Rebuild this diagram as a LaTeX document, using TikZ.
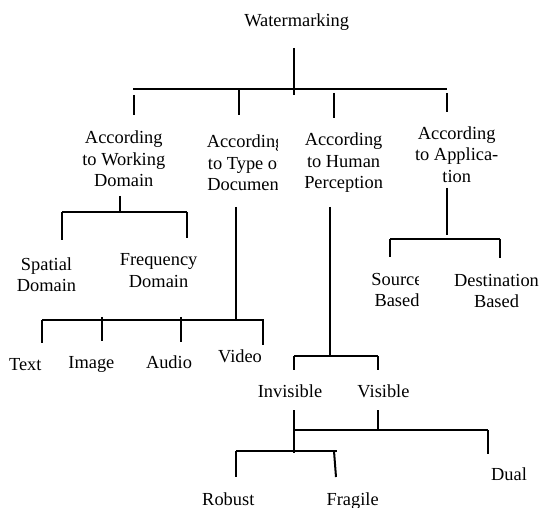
\documentclass[tikz,border=0pt]{standalone}
\usepackage{fontspec}
\setmainfont{Liberation Serif}

\begin{document}
\begin{tikzpicture}[x=1pt,y=-1pt,
		every node/.style={font=\fontsize{18.4}{21.6}\selectfont,inner sep=0pt,align=center,anchor=base},
		bar/.style={line width=2pt}]
			\useasboundingbox (0,0) rectangle (539,508);

			% the base of a node of several lines is its last line
			\node (WM) at (296.7,26.7) {Watermarking};
			\node (AWD) at (123.8,186.7) {According\\to Working\\Domain};
			\begin{scope}
				\clip (190,125) rectangle (277.3,200);
				\node (ATD) at (245.6,190.7) {According\\to Type of\\Document};
			\end{scope}
			\node (AHP) at (343.6,188.7) {According\\to Human\\Perception};
			\node (AAP) at (456.7,182.5) {According\\to Applica-\\tion};
			\node (SD) at (46.5,291.7) {Spatial\\Domain};
			\node (FD) at (158.6,287.5) {Frequency\\Domain};
			\begin{scope}
				\clip (360,265) rectangle (418.5,315);
				\node (SB) at (397,306.7) {Source\\Based};
			\end{scope}
			\node (DB) at (496.5,308) {Destination\\Based};
			\node (Txt) at (25.3,370.7) {Text};
			\node (Img) at (91.4,368.3) {Image};
			\node (Aud) at (169,368.3) {Audio};
			\node (Vid) at (240,362.7) {Video};
			\node (Inv) at (290,397.3) {Invisible};
			\node (Vis) at (383.5,397.3) {Visible};
			\node (Dual) at (509,480) {Dual};
			\node (Rob) at (228.3,505) {Robust};
			\node (Frg) at (352.6,505) {Fragile};

			% watermarking
			\coordinate (wm1) at (294,48);  \coordinate (wm2) at (294,95);
			\coordinate (wmL) at (133,89);  \coordinate (wmR) at (447,89);
			\coordinate (awd1) at (134,95); \coordinate (awd2) at (134,115);
			\coordinate (atd1) at (239,90); \coordinate (atd2) at (239,115);
			\coordinate (ahp1) at (334,93); \coordinate (ahp2) at (334,118);
			\coordinate (aap1) at (447,93); \coordinate (aap2) at (447,112);
			\draw[bar] (wm1) -- (wm2);
			\draw[bar] (wmL) -- (wmR);
			\draw[bar] (awd1) -- (awd2);
			\draw[bar] (atd1) -- (atd2);
			\draw[bar] (ahp1) -- (ahp2);
			\draw[bar] (aap1) -- (aap2);

			% working domain
			\coordinate (wd1) at (120,196); \coordinate (wd2) at (120,212);
			\coordinate (wdL) at (62,212);  \coordinate (wdR) at (187,212);
			\coordinate (sd1) at (62,240);  \coordinate (fd1) at (187,238);
			\draw[bar] (wd1) -- (wd2);
			\draw[bar] (wdL) -- (wdR);
			\draw[bar] (wdL) -- (sd1);
			\draw[bar] (wdR) -- (fd1);

			% type of document
			\coordinate (td1) at (236,207); \coordinate (td2) at (236,320);
			\coordinate (tdL) at (42,320);  \coordinate (tdR) at (264,320);
			\coordinate (txt1) at (42,343);
			\coordinate (img0) at (102,317); \coordinate (img1) at (102,341);
			\coordinate (aud0) at (181,317); \coordinate (aud1) at (181,342);
			\coordinate (vid0) at (263,320); \coordinate (vid1) at (263,345);
			\draw[bar] (td1) -- (td2);
			\draw[bar] (tdL) -- (tdR);
			\draw[bar] (tdL) -- (txt1);
			\draw[bar] (img0) -- (img1);
			\draw[bar] (aud0) -- (aud1);
			\draw[bar] (vid0) -- (vid1);

			% human perception
			\coordinate (hp1) at (330,207); \coordinate (hp2) at (330,356);
			\coordinate (hpL) at (294,356); \coordinate (hpR) at (378,356);
			\coordinate (inv1) at (294,370); \coordinate (vis1) at (378,370);
			\draw[bar] (hp1) -- (hp2);
			\draw[bar] (hpL) -- (hpR);
			\draw[bar] (hpL) -- (inv1);
			\draw[bar] (hpR) -- (vis1);

			% invisible / visible
			\coordinate (iv1) at (294,410); \coordinate (iv2) at (294,453);
			\coordinate (vs1) at (378,410); \coordinate (vs2) at (378,430);
			\coordinate (ivL) at (294,430); \coordinate (ivR) at (488,430);
			\coordinate (dual1) at (488,454);
			\coordinate (rbL) at (236,451); \coordinate (rbR) at (337,451);
			\coordinate (rob1) at (236,477);
			\coordinate (frg0) at (334,451); \coordinate (frg1) at (336,477);
			\draw[bar] (iv1) -- (iv2);
			\draw[bar] (vs1) -- (vs2);
			\draw[bar] (ivL) -- (ivR);
			\draw[bar] (ivR) -- (dual1);
			\draw[bar] (rbL) -- (rbR);
			\draw[bar] (rbL) -- (rob1);
			\draw[bar] (frg0) -- (frg1);

			% application
			\coordinate (ap1) at (447,188); \coordinate (ap2) at (447,235);
			\coordinate (apL) at (390,239); \coordinate (apR) at (500,239);
			\coordinate (sb1) at (390,257); \coordinate (db1) at (500,258);
			\draw[bar] (ap1) -- (ap2);
			\draw[bar] (apL) -- (apR);
			\draw[bar] (apL) -- (sb1);
			\draw[bar] (apR) -- (db1);
		\end{tikzpicture}
\end{document}
